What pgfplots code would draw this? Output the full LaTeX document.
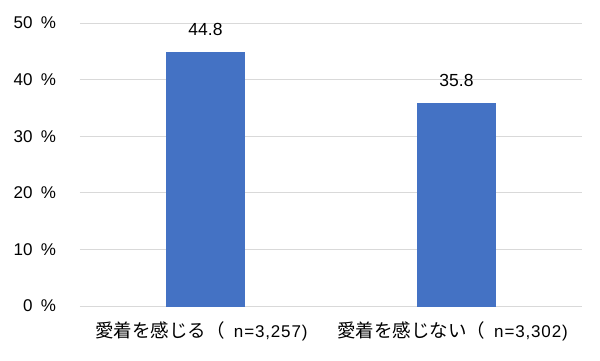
\documentclass[border=0pt]{standalone}
\usepackage{pgfplots}
\pgfplotsset{compat=1.18}
\usepackage{fontspec}
\setmainfont{Liberation Sans}
\newfontfamily\cjk{Noto Sans CJK JP}
\newfontfamily\lat[LetterSpace=5]{Liberation Sans}
\definecolor{barblue}{HTML}{4472C4}
\definecolor{gridgray}{HTML}{D9D9D9}
\newcommand{\jp}[1]{{\cjk\fontsize{18.5pt}{20pt}\selectfont #1}}
\begin{document}
\fontsize{17pt}{20pt}\selectfont
\begin{tikzpicture}
\useasboundingbox (-80pt,-54pt) rectangle (520pt,306pt);
\begin{axis}[
  at={(0,0)}, anchor=south west,
  scale only axis,
  width=502pt, height=283pt,
  xmin=-0.5, xmax=1.5,
  ymin=0, ymax=50,
  ytick={0,10,...,50},
  xtick={0,1},
  xticklabels={{\jp{愛着を感じる（}\hspace{9pt}{\lat n=3,257)}}, {\jp{愛着を感じない（}\hspace{9pt}{\lat n=3,302)}}},
  axis line style={draw=none},
  major tick length=0pt,
  ymajorgrids,
  grid style={gridgray, line width=0.9pt},
  /pgf/number format/assume math mode=true,
  yticklabel={\pgfmathprintnumber{\tick}\hspace{0.5em}\%},
  yticklabel style={font=\fontsize{17pt}{20pt}\selectfont, xshift=-18pt},
  xticklabel style={font=\fontsize{17pt}{20pt}\selectfont, yshift=-10pt, xshift=-4pt},
  ybar, bar width=78pt,
  nodes near coords,
  nodes near coords style={font=\fontsize{17.5pt}{20pt}\selectfont, yshift=11pt, /pgf/number format/fixed, /pgf/number format/precision=1, /pgf/number format/fixed zerofill},
  clip=false,
]
\addplot[fill=barblue, draw=barblue] coordinates {(0,44.8) (1,35.8)};
\end{axis}
\end{tikzpicture}
\end{document}
